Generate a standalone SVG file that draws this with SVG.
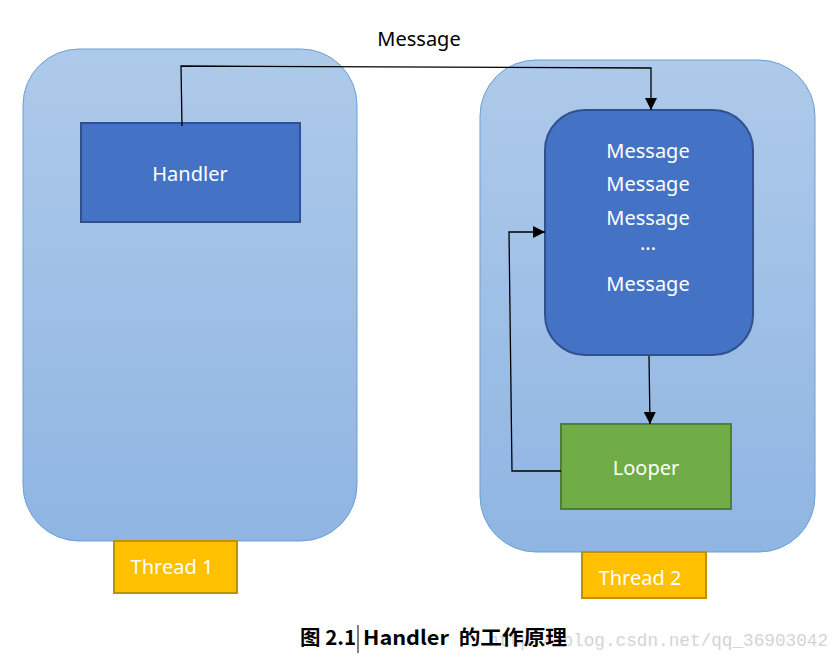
<svg xmlns="http://www.w3.org/2000/svg" width="840" height="664" viewBox="0 0 840 664">
<defs>
<linearGradient id="bg" x1="0" y1="0" x2="0" y2="1">
<stop offset="0" stop-color="#aecaea"/>
<stop offset="1" stop-color="#8fb5e2"/>
</linearGradient>
<marker id="arr" viewBox="0 0 10 10" refX="10" refY="5" markerWidth="12" markerHeight="12" markerUnits="userSpaceOnUse" orient="auto">
<path d="M0,0 L10,5 L0,10 z" fill="#000"/>
</marker>
<style>
.cont{fill:url(#bg);stroke:#6a9fd6;stroke-width:1}
.blue{fill:#4472c4;stroke:#2f528f;stroke-width:2}
.t{font-family:"Noto Sans","Open Sans",sans-serif;font-size:20px;text-anchor:middle}
.w{fill:#ffffff}
.thr{fill:#ffc000;stroke:#bf9000;stroke-width:2}
.conn{fill:none;stroke:#000;stroke-width:1.3}
.cap{font-family:"Noto Sans CJK SC",sans-serif;font-size:20px;font-weight:bold;fill:#000}
</style>
</defs>
<rect width="840" height="664" fill="#fff"/>
<g id="thread1-box"><rect class="cont" x="23" y="49" width="334" height="492" rx="56"/></g>
<g id="thread2-box"><rect class="cont" x="480" y="60" width="335" height="492" rx="56"/></g>
<g id="handler"><rect class="blue" x="81" y="123" width="219" height="99"/><text class="t w" x="190" y="181">Handler</text></g>
<g id="queue"><rect class="blue" x="545" y="110" width="208" height="245" rx="40"/>
<text class="t w" x="648" y="158">Message</text>
<text class="t w" x="648" y="191">Message</text>
<text class="t w" x="648" y="225">Message</text>
<text class="t w" x="648" y="250">...</text>
<text class="t w" x="648" y="291">Message</text></g>
<g id="looper"><rect x="561" y="424" width="170" height="85" fill="#70ad47" stroke="#507e32" stroke-width="2"/><text class="t w" x="646" y="475">Looper</text></g>
<g id="thread1"><rect class="thr" x="114" y="541" width="123" height="52"/><text class="t w" x="172" y="574">Thread 1</text></g>
<g id="thread2"><rect class="thr" x="582" y="552" width="124" height="46"/><text class="t w" x="640" y="585">Thread 2</text></g>
<g id="connectors">
<polyline class="conn" points="182,126 181,66 651,68 651,110" marker-end="url(#arr)"/>
<line class="conn" x1="649" y1="356" x2="650" y2="424" marker-end="url(#arr)"/>
<polyline class="conn" points="561,471 512,471 509,232 545,232" marker-end="url(#arr)"/>
</g>
<text class="t" x="419" y="46" fill="#000">Message</text>
<text x="488" y="646" font-family="Liberation Mono,monospace" font-size="18" fill="#d4d4d4" textLength="340" lengthAdjust="spacingAndGlyphs">http://blog.csdn.net/qq_36903042</text>
<text class="cap" x="300" y="645" textLength="56" lengthAdjust="spacingAndGlyphs">图 2.1</text>
<line x1="358" y1="625" x2="358" y2="653" stroke="#000" stroke-width="1"/>
<text class="cap" x="363" y="645" textLength="204" lengthAdjust="spacingAndGlyphs" xml:space="preserve">Handler  的工作原理</text>
</svg>
